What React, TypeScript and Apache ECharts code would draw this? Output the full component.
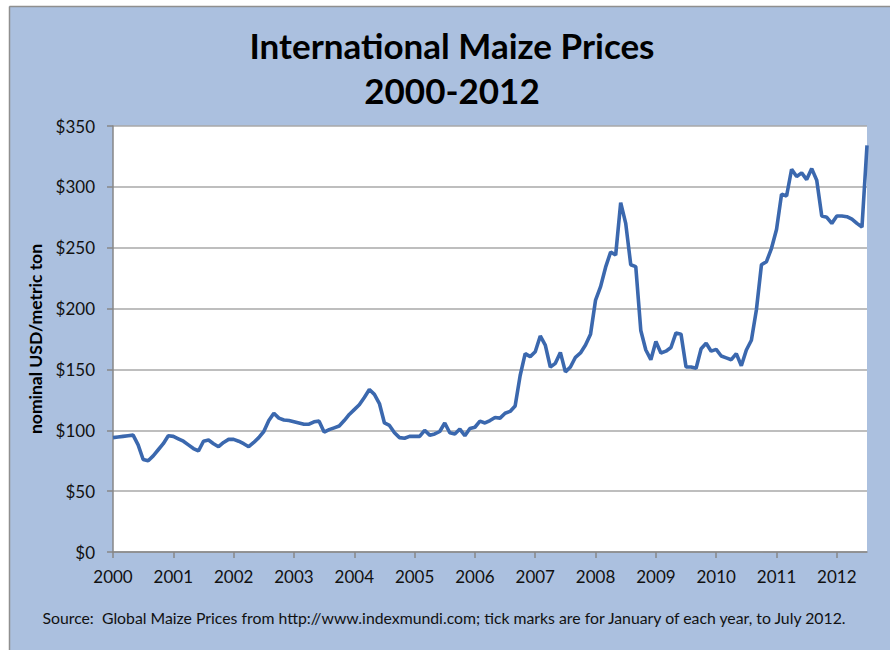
import React, { useEffect, useRef } from "react";
import * as echarts from "echarts";

const years = [2000, 2001, 2002, 2003, 2004, 2005, 2006, 2007, 2008, 2009, 2010, 2011, 2012];

// Monthly prices (nominal USD / metric ton), January .. December
const p2000 = [94, 94.5, 95, 95.5, 96, 88, 76, 75, 79, 84, 89, 95.5];
const p2001 = [95, 93, 91, 88, 85, 83, 91, 92, 89, 86.5, 90, 92.5];
const p2002 = [92.5, 91, 89, 86.5, 90, 94, 99, 108, 114, 110, 108.5, 108];
const p2003 = [107, 106, 105, 105, 107, 107.5, 98.5, 100.5, 102, 103.5, 108, 113];
const p2004 = [117, 121, 127, 133.5, 129.5, 122, 106, 104, 98, 94, 93.5, 95];
const p2005 = [95, 95, 100, 96, 97, 99, 106, 98, 97, 101, 95.5, 101.5];
const p2006 = [102.5, 107.5, 106, 108, 110.5, 110, 114, 115.5, 120, 145, 163, 160.5];
const p2007 = [164.5, 177.5, 170, 152, 155, 164, 148, 152, 160, 163.5, 170, 179];
const p2008 = [207, 218, 234, 246.5, 244, 287, 270, 236, 234.5, 182, 166, 158];
const p2009 = [173, 163.5, 165, 168, 180, 179, 152, 152, 151, 167, 171.5, 165];
const p2010 = [166.5, 161, 159.5, 158, 163, 153, 166, 174, 199, 236, 238.5, 249.5];
const p2011 = [265, 294, 292.5, 314.5, 308.5, 311.5, 306, 315, 305.5, 276, 275, 270];
const p2012 = [276, 276, 275.5, 273.5, 270, 267, 334]; // to July 2012

const pricesByYear = [p2000, p2001, p2002, p2003, p2004, p2005, p2006, p2007, p2008, p2009, p2010, p2011, p2012];

const yTicks = [0, 50, 100, 150, 200, 250, 300, 350];

const titleLine1 = "International Maize Prices";
const titleLine2 = "2000-2012";
const yAxisName = "nominal USD/metric ton";
const sourceText =
  "Source:  Global Maize Prices from http://www.indexmundi.com; tick marks are for January of each year, to July 2012.";

const months: string[] = [];
const prices: number[] = [];
pricesByYear.forEach((arr, i) => {
  arr.forEach((v, j) => {
    months.push(`${years[i]}-${String(j + 1).padStart(2, "0")}`);
    prices.push(v);
  });
});

const FONT = "Lato, 'Open Sans', sans-serif";
const BG = "#abc0df";
const AXIS_GRAY = "#878787";

export default function App() {
  const ref = useRef<HTMLDivElement>(null);

  useEffect(() => {
    if (!ref.current) return;
    const chart = echarts.init(ref.current, undefined, { renderer: "svg" });
    chart.setOption({
      animation: false,
      backgroundColor: BG,
      grid: {
        left: 113,
        right: 23,
        top: 126,
        bottom: 98,
        show: true,
        backgroundColor: "#ffffff",
        borderWidth: 0,
      },
      xAxis: {
        type: "category",
        data: months,
        boundaryGap: false,
        axisLine: { show: true, lineStyle: { color: AXIS_GRAY, width: 1.5 } },
        axisTick: {
          show: true,
          interval: (i: number) => i % 12 === 0,
          length: 6,
          lineStyle: { color: AXIS_GRAY, width: 1.5 },
        },
        axisLabel: {
          interval: (i: number) => i % 12 === 0,
          formatter: (v: string) => v.slice(0, 4),
          color: "#111",
          fontFamily: FONT,
          fontSize: 17,
          margin: 16,
        },
        splitLine: { show: false },
      },
      yAxis: {
        type: "value",
        min: yTicks[0],
        max: yTicks[yTicks.length - 1],
        interval: yTicks[1] - yTicks[0],
        axisLine: { show: true, lineStyle: { color: AXIS_GRAY, width: 1.5 } },
        axisTick: { show: true, length: 6, lineStyle: { color: AXIS_GRAY, width: 1.5 } },
        axisLabel: {
          formatter: (v: number) => "$" + v,
          color: "#111",
          fontFamily: FONT,
          fontSize: 17,
          margin: 18,
        },
        splitLine: { show: true, lineStyle: { color: "#a8a8a8", width: 1.5 } },
        name: yAxisName,
        nameLocation: "middle",
        nameRotate: 90,
        nameGap: 68,
        nameTextStyle: {
          color: "#000",
          fontFamily: FONT,
          fontWeight: "bold",
          fontSize: 17.5,
        },
      },
      series: [
        {
          type: "line",
          data: prices,
          showSymbol: false,
          symbol: "none",
          lineStyle: { color: "#3b68ae", width: 3.6 },
          itemStyle: { color: "#3b68ae" },
        },
      ],
      graphic: [
        { type: "rect", shape: { x: 0, y: 0, width: 890, height: 6 }, style: { fill: "#ffffff" }, silent: true },
        { type: "rect", shape: { x: 0, y: 0, width: 9, height: 650 }, style: { fill: "#ffffff" }, silent: true },
        {
          type: "line",
          shape: { x1: 9.5, y1: 6.5, x2: 890, y2: 6.5 },
          style: { stroke: "#8f8f8f", lineWidth: 1.5 },
          silent: true,
        },
        {
          type: "line",
          shape: { x1: 9.5, y1: 6.5, x2: 9.5, y2: 650 },
          style: { stroke: "#8f8f8f", lineWidth: 1.5 },
          silent: true,
        },
        {
          type: "text",
          x: 452,
          y: 45,
          style: {
            text: titleLine1,
            fontFamily: FONT,
            fontWeight: "bold",
            fontSize: 35,
            fill: "#000",
            align: "center",
            verticalAlign: "middle",
          },
        },
        {
          type: "text",
          x: 452,
          y: 90,
          style: {
            text: titleLine2,
            fontFamily: FONT,
            fontWeight: "bold",
            fontSize: 35,
            fill: "#000",
            align: "center",
            verticalAlign: "middle",
          },
        },
        {
          type: "text",
          x: 444,
          y: 617,
          style: {
            text: sourceText,
            fontFamily: FONT,
            fontSize: 15.8,
            fill: "#111",
            align: "center",
            verticalAlign: "middle",
          },
        },
      ],
    });
    return () => chart.dispose();
  }, []);

  return (
    <div
      ref={ref}
      style={{ position: "absolute", left: 0, top: 0, width: 890, height: 650 }}
    />
  );
}
